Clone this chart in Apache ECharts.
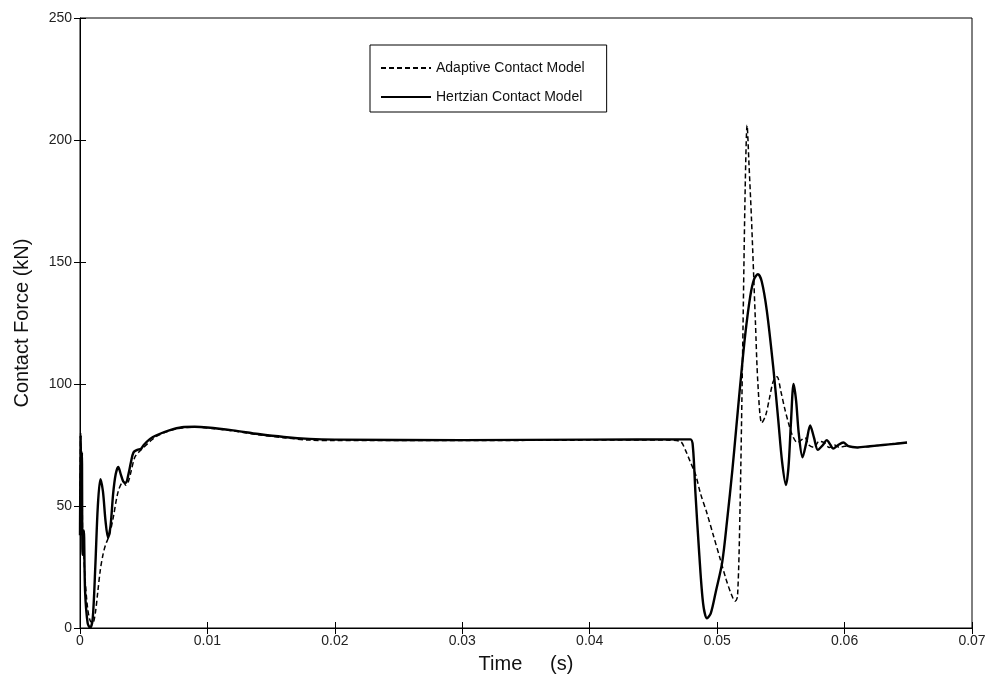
<!DOCTYPE html>
<html>
<head>
<meta charset="utf-8">
<script src="https://cdn.jsdelivr.net/npm/echarts@6/dist/echarts.min.js"></script>
<style>html,body{margin:0;padding:0;background:#fff;}#c{width:990px;height:680px;}</style>
</head>
<body>
<div id="c"></div>
<script>
const xTickLabels = ['0','0.01','0.02','0.03','0.04','0.05','0.06','0.07'];
const yTickLabels = ['0','50','100','150','200','250'];
const seriesNames = ['Adaptive Contact Model','Hertzian Contact Model'];

const adaptive = [
[0,45],[0.00005,80],[0.0001,55],[0.00015,65],[0.0002,40],[0.0003,30],[0.0004,20],[0.0006,8],[0.0008,3],[0.001,2],
[0.0012,6],[0.0014,15],[0.0016,24],[0.0018,30],[0.002,34],[0.0023,38],[0.0026,45],[0.003,56],[0.0034,60],[0.0036,58.5],
[0.0038,60],[0.004,64],[0.0043,70],[0.0046,72],[0.005,74],[0.0055,76.5],[0.006,78.5],[0.007,80.8],[0.008,82],[0.009,82.3],
[0.010,82],[0.012,80.8],[0.014,79.2],[0.016,78],[0.018,77],[0.02,76.8],[0.03,76.8],[0.04,77],[0.046,77],[0.0471,76.5],
[0.0475,73],[0.0479,68],[0.0483,63],[0.0487,55],[0.0492,47],[0.0497,38],[0.0502,29],[0.0507,20],[0.0511,14],[0.0514,11],
[0.0516,13],[0.0518,50],[0.052,113],[0.0522,180],[0.05235,206],[0.0525,190],[0.0527,167],[0.053,126],[0.0532,100],[0.0535,84],
[0.0538,87],[0.0541,94],[0.0544,101],[0.0547,103],[0.055,97],[0.0553,90],[0.0556,84],[0.0559,79],[0.0563,76],[0.0566,77],
[0.0569,78],[0.0572,75],[0.0576,74],[0.058,76.5],[0.0584,76],[0.0588,74],[0.0592,75],[0.0596,74],[0.06,74.5],[0.061,74],
[0.062,74.5],[0.063,75],[0.064,75.5],[0.0649,76]
];

const hertzian = [
[0,38],[0.00005,79],[0.0001,45],[0.00015,72],[0.0002,30],[0.0003,40],[0.0004,15],[0.0006,2],[0.0008,0],[0.001,4],
[0.0012,25],[0.0014,50],[0.0016,61],[0.0018,56],[0.002,44],[0.0022,37],[0.0024,42],[0.0026,55],[0.0028,63],[0.003,66],
[0.0032,63],[0.0034,60],[0.0036,59.5],[0.0038,63],[0.004,68],[0.0042,72],[0.0045,73],[0.0048,73.5],[0.005,75],[0.0055,77.5],
[0.006,79],[0.007,81],[0.008,82.3],[0.009,82.5],[0.010,82.2],[0.012,81],[0.014,79.5],[0.016,78.3],[0.018,77.5],[0.02,77.2],
[0.03,77],[0.04,77.2],[0.0479,77.3],[0.0481,74],[0.0483,55],[0.0486,30],[0.0489,10],[0.0492,4],[0.0495,6],[0.0499,15],
[0.0504,27],[0.0508,45],[0.0512,65],[0.0515,82],[0.0518,99],[0.0522,120],[0.0526,136],[0.0529,143],[0.0532,145],[0.0535,142],
[0.0539,130],[0.0544,107],[0.0548,85],[0.0551,68],[0.0554,58.6],[0.0556,66],[0.0558,85],[0.056,100],[0.0562,93],[0.0564,80],
[0.0567,70],[0.057,76],[0.0573,83],[0.0576,78],[0.0579,73],[0.0583,75],[0.0586,77],[0.0589,75],[0.0591,73.5],[0.0595,75],
[0.0599,76],[0.0603,74.5],[0.061,74],[0.062,74.5],[0.063,75],[0.064,75.5],[0.0649,76]
];

const FONT = 'Liberation Sans';
const chart = echarts.init(document.getElementById('c'), null, {renderer:'canvas'});
const tickStyle = {inside:true, length:6, lineStyle:{color:'#000', width:1}};
chart.setOption({
  animation:false,
  backgroundColor:'#fff',
  grid:{left:80, right:18, top:18, bottom:52, show:true, borderColor:'#000', borderWidth:1},
  legend:{
    data:seriesNames, orient:'vertical', left:370, top:45,
    itemWidth:50, itemHeight:10, itemGap:15,
    backgroundColor:'#fff', borderColor:'#000', borderWidth:1,
    padding:[16,22,8,10],
    itemStyle:{opacity:0},
    textStyle:{fontFamily:FONT, fontSize:14, color:'#111'}
  },
  xAxis:[{
    type:'value', min:0, max:0.07, interval:0.01,
    name:'Time     (s)', nameLocation:'middle', nameGap:26,
    nameTextStyle:{fontFamily:FONT, fontSize:20, color:'#111'},
    axisLine:{show:true, lineStyle:{color:'#000'}}, axisTick:tickStyle, splitLine:{show:false},
    axisLabel:{fontFamily:FONT, fontSize:14, color:'#222', margin:6,
      formatter:(v)=>xTickLabels[Math.round(v/0.01)]}
  },{
    type:'value', position:'top', min:0, max:0.07, interval:0.01,
    axisLine:{show:false}, axisTick:tickStyle, axisLabel:{show:false}, splitLine:{show:false}
  }],
  yAxis:[{
    type:'value', min:0, max:250, interval:50,
    name:'Contact Force (kN)', nameLocation:'middle', nameGap:48,
    nameTextStyle:{fontFamily:FONT, fontSize:20, color:'#111'},
    axisLine:{show:true, lineStyle:{color:'#000'}}, axisTick:tickStyle, splitLine:{show:false},
    axisLabel:{fontFamily:FONT, fontSize:14, color:'#222', margin:8,
      formatter:(v)=>yTickLabels[Math.round(v/50)]}
  },{
    type:'value', position:'right', min:0, max:250, interval:50,
    axisLine:{show:false}, axisTick:tickStyle, axisLabel:{show:false}, splitLine:{show:false}
  }],
  series:[
    {name:seriesNames[0], type:'line', data:adaptive, showSymbol:false, symbol:'none', smooth:0.3,
     lineStyle:{color:'#000', width:1.5, type:[5,3]}, itemStyle:{color:'#000'}, z:3},
    {name:seriesNames[1], type:'line', data:hertzian, showSymbol:false, symbol:'none', smooth:0.3,
     lineStyle:{color:'#000', width:2.4, type:'solid'}, itemStyle:{color:'#000'}, z:4}
  ]
});
</script>
</body>
</html>
